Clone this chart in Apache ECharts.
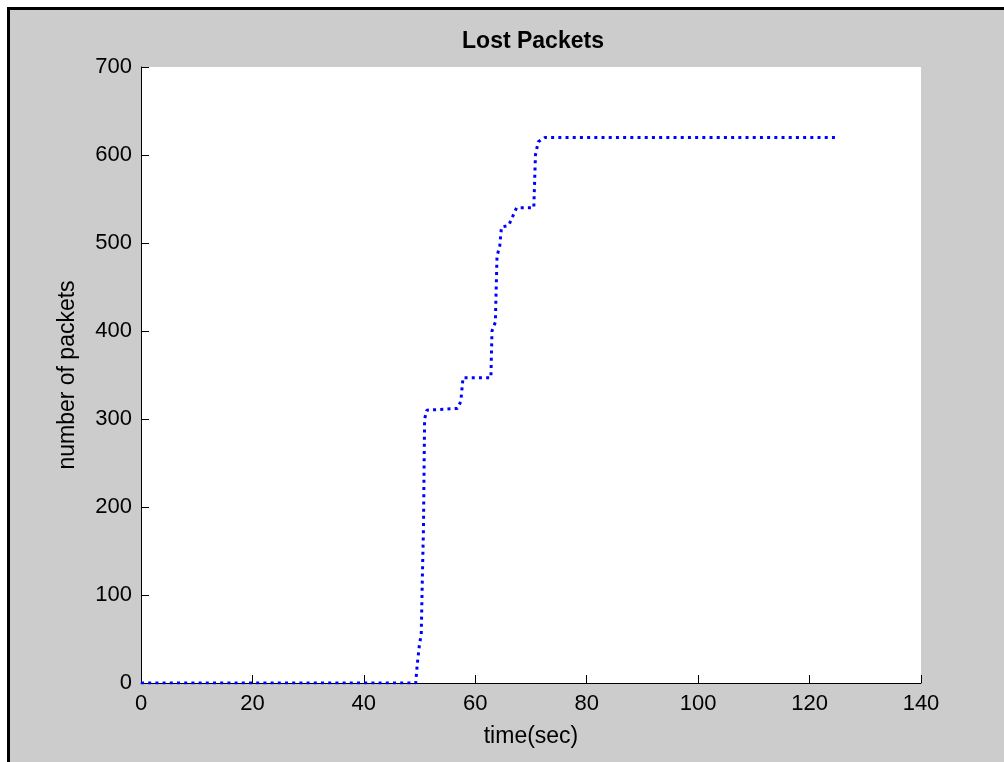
<!DOCTYPE html>
<html>
<head>
<meta charset="utf-8">
<script src="https://cdn.jsdelivr.net/npm/echarts@6/dist/echarts.min.js"></script>
<style>
  html, body { margin: 0; padding: 0; background: #fff; overflow: hidden; width: 1004px; height: 762px; }
  #frame {
    position: absolute; left: 7px; top: 7px; right: 0; bottom: 0;
    border-top: 3px solid #000; border-left: 3px solid #000;
    background: #cccccc;
  }
  #chart { position: absolute; left: 0; top: 0; width: 1004px; height: 762px; }
</style>
</head>
<body>
<div id="frame"></div>
<div id="chart"></div>
<script>
// cumulative lost packets
var timeSec = [0, 49.3, 49.6, 50.0, 50.3, 50.5, 50.7, 50.9, 51.3, 56.8, 57.4, 57.8, 62.8, 63.0, 63.6, 63.9, 64.4, 64.7, 66.0, 66.7, 67.4, 70.5, 70.8, 71.3, 72.5, 125];
var lost    = [0, 0,    22,   45,   55,   120,  176,  300,  310,  312,  320,  347,  347,  400,  410,  485,  497,  518,  520,  530,  540,  540,  600,  615,  620,  620];

var xTicks = [0, 20, 40, 60, 80, 100, 120, 140];
var yTicks = [0, 100, 200, 300, 400, 500, 600, 700];

var points = timeSec.map(function (t, i) { return [t, lost[i]]; });

var font = 'Liberation Sans, Arial, Helvetica, sans-serif';
var chart = echarts.init(document.getElementById('chart'));
chart.setOption({
  animation: false,
  title: {
    text: 'Lost Packets',
    left: 528,
    top: 25,
    textAlign: 'center',
    textStyle: { fontFamily: font, fontSize: 23, fontWeight: 'bold', color: '#000' }
  },
  grid: {
    show: true,
    backgroundColor: '#fff',
    borderWidth: 0,
    left: 141,
    right: 83,
    top: 67,
    bottom: 79
  },
  xAxis: {
    type: 'value',
    min: 0,
    max: 140,
    interval: 20,
    name: 'time(sec)',
    nameLocation: 'middle',
    nameGap: 42,
    nameTextStyle: { fontFamily: font, fontSize: 23, color: '#000' },
    axisLine: { show: true, lineStyle: { color: '#000', width: 1 } },
    axisTick: { show: true, inside: true, length: 8, lineStyle: { color: '#000' } },
    axisLabel: { fontFamily: font, fontSize: 22, color: '#000', margin: 10,
      formatter: function (v) { return xTicks.indexOf(v) >= 0 ? String(v) : ''; } },
    splitLine: { show: false }
  },
  yAxis: {
    type: 'value',
    min: 0,
    max: 700,
    interval: 100,
    name: 'number of packets',
    nameLocation: 'middle',
    nameGap: 62,
    nameRotate: 90,
    nameTextStyle: { fontFamily: font, fontSize: 23, color: '#000' },
    axisLine: { show: true, lineStyle: { color: '#000', width: 1 } },
    axisTick: { show: true, inside: true, length: 8, lineStyle: { color: '#000' } },
    axisLabel: { fontFamily: font, fontSize: 22, color: '#000', margin: 9,
      formatter: function (v) { return yTicks.indexOf(v) >= 0 ? String(v) : ''; } },
    splitLine: { show: false }
  },
  series: [{
    type: 'line',
    data: points,
    showSymbol: false,
    symbol: 'none',
    lineStyle: { color: '#0000ff', width: 3, type: [3, 4.2], cap: 'butt' },
    z: 1
  }]
});
</script>
</body>
</html>
